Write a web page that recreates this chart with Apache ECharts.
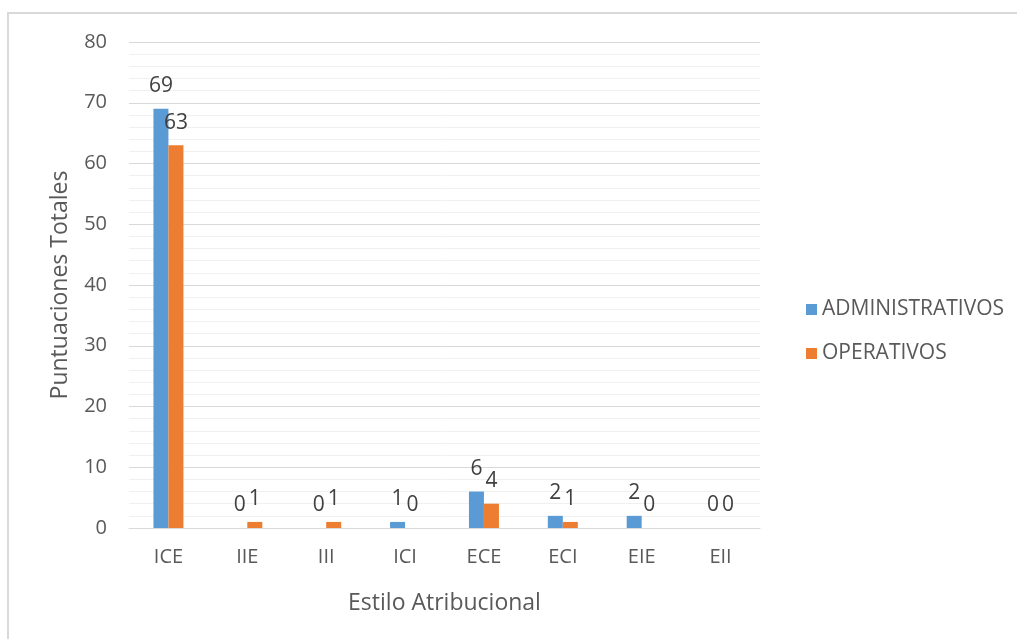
<!DOCTYPE html>
<html>
<head>
<meta charset="utf-8">
<script src="https://cdn.jsdelivr.net/npm/echarts@6/dist/echarts.min.js"></script>
<style>
  html, body { margin: 0; padding: 0; background: #fff; overflow: hidden; }
  #frame { position: absolute; left: 7px; top: 12px; width: 1100px; height: 700px;
           border-left: 2px solid #d9d9d9; border-top: 2px solid #d9d9d9; }
  #chart { position: absolute; left: 0; top: 0; width: 1017px; height: 639px; }
</style>
</head>
<body>
<div id="frame"></div>
<div id="chart"></div>
<script>
(function () {
  const categories = ['ICE', 'IIE', 'III', 'ICI', 'ECE', 'ECI', 'EIE', 'EII'];
  const administrativos = [69, 0, 0, 1, 6, 2, 2, 0];
  const operativos = [63, 1, 1, 0, 4, 1, 0, 0];

  const font = '"Open Sans", sans-serif';
  const textColor = '#595959';

  const label = {
    show: true,
    position: 'top',
    distance: 12,
    fontFamily: font,
    fontSize: 21,
    color: '#404040'
  };

  const option = {
    animation: false,
    textStyle: { fontFamily: font },
    grid: { left: 129, right: 257, top: 42, bottom: 111, containLabel: false },
    legend: {
      orient: 'vertical',
      left: 801,
      top: 294,
      itemWidth: 11,
      itemHeight: 11,
      itemGap: 23,
      icon: 'rect',
      textStyle: { fontFamily: font, fontSize: 21, color: textColor },
      data: ['ADMINISTRATIVOS', 'OPERATIVOS']
    },
    xAxis: {
      type: 'category',
      data: categories,
      name: 'Estilo Atribucional',
      nameLocation: 'middle',
      nameGap: 64,
      nameTextStyle: { fontSize: 23, color: textColor, fontFamily: font },
      axisLine: { lineStyle: { color: '#d9d9d9' } },
      axisTick: { show: false },
      axisLabel: { fontSize: 20, color: textColor, margin: 19 }
    },
    yAxis: {
      type: 'value',
      min: 0,
      max: 80,
      interval: 10,
      name: 'Puntuaciones Totales',
      nameLocation: 'middle',
      nameGap: 57,
      nameTextStyle: { fontSize: 23, color: textColor, fontFamily: font },
      axisLine: { show: false },
      axisTick: { show: false },
      axisLabel: { fontSize: 20, color: textColor, margin: 22 },
      splitLine: { lineStyle: { color: '#d9d9d9' } },
      minorTick: { show: false, splitNumber: 5 },
      minorSplitLine: { show: true, lineStyle: { color: '#f0f0f0' } }
    },
    series: [
      {
        name: 'ADMINISTRATIVOS',
        type: 'bar',
        data: administrativos,
        barWidth: 15,
        barGap: '0%',
        itemStyle: { color: '#5b9bd5' },
        label: label
      },
      {
        name: 'OPERATIVOS',
        type: 'bar',
        data: operativos,
        barWidth: 15,
        barGap: '0%',
        itemStyle: { color: '#ed7d31' },
        label: label
      }
    ]
  };

  const chart = echarts.init(document.getElementById('chart'));
  chart.setOption(option);
})();
</script>
</body>
</html>
